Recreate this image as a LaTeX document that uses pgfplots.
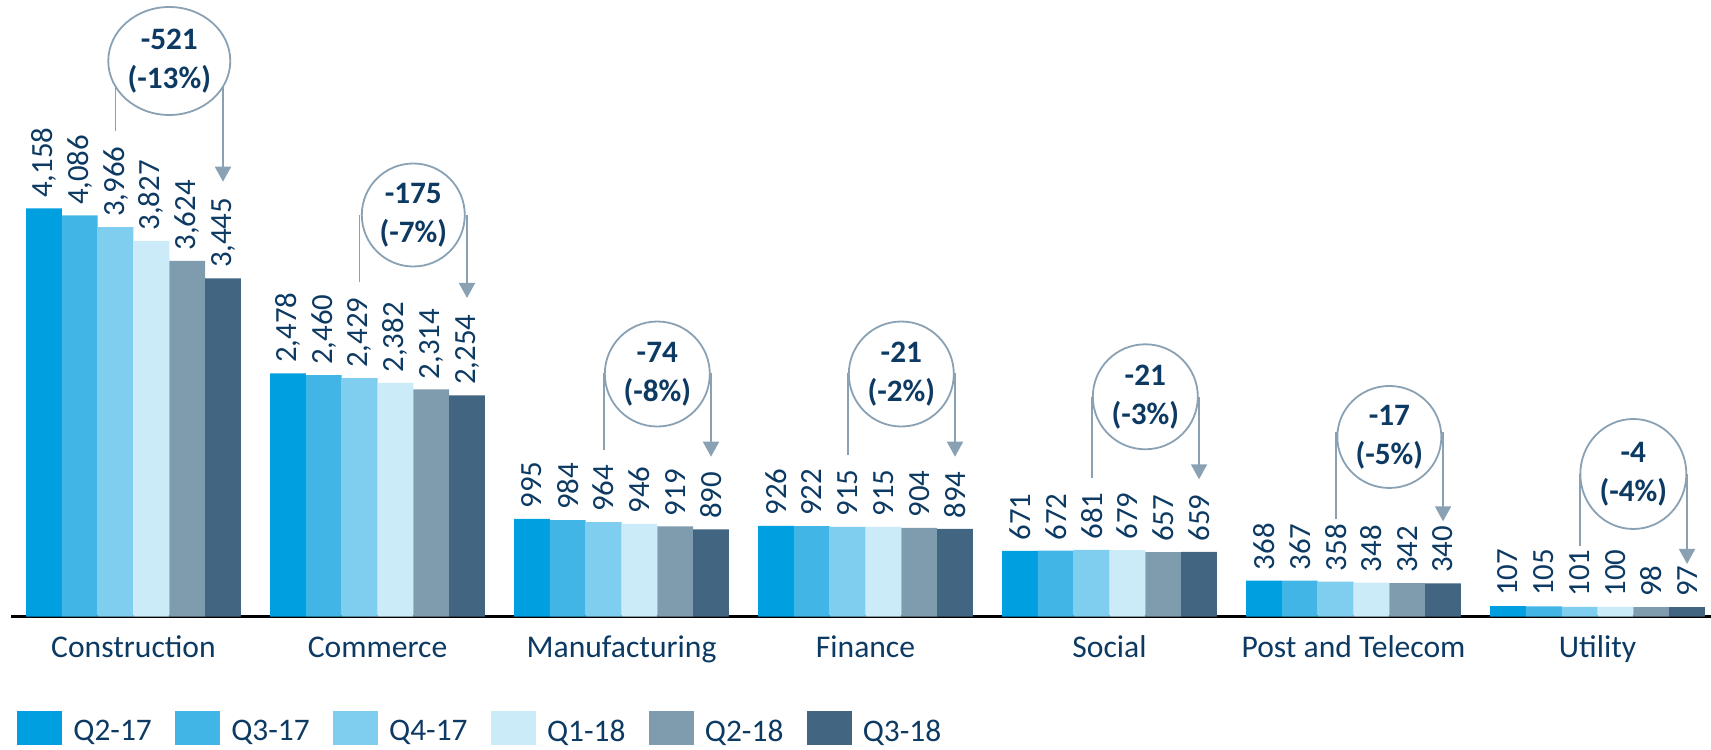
\documentclass[border=0pt]{standalone}
\usepackage{fontspec}
\setmainfont{Carlito}
\usepackage{pgfplots}
\pgfplotsset{compat=1.18}
\usetikzlibrary{arrows.meta}

\definecolor{qa}{HTML}{009FDF}
\definecolor{qb}{HTML}{41B6E6}
\definecolor{qc}{HTML}{80CEEF}
\definecolor{qd}{HTML}{CCEBF8}
\definecolor{qe}{HTML}{7F9BAE}
\definecolor{qf}{HTML}{426582}
\definecolor{navy}{HTML}{0D3A63}
\definecolor{annc}{HTML}{8AA1B4}

% category, circle y, line top, left line end, arrow tip, change, percent, x radius, y radius
\newcommand\change[9]{%
  \draw[annc, line width=0.9pt] (axis cs:#1+0.1467,#2) ellipse [x radius=#8pt, y radius=#9pt];
  \node[text=navy, font=\bfseries\fontsize{15.6}{19.5}\selectfont, align=center, inner sep=0pt]
    at (axis cs:#1+0.1467,#2) {#6\\(#7)};
  \draw[annc, line width=0.9pt] (axis cs:#1-0.0734,#3) -- (axis cs:#1-0.0734,#4);
  \draw[annc, line width=0.9pt, -{Triangle[width=8pt,length=7.5pt]}]
    (axis cs:#1+0.3668,#3) -- (axis cs:#1+0.3668,#5);
}

\begin{document}
\begin{tikzpicture}
\begin{axis}[
  name=ax,
  scale only axis,
  width=850pt, height=308.35pt,
  xmin=-0.502, xmax=6.465, ymin=0, ymax=6279,
  ybar=0pt, bar width=17.9pt,
  axis x line=bottom, axis y line=none,
  x axis line style={-, black, line width=1.3pt},
  xtick={0,...,6},
  xticklabels={Construction,Commerce,Manufacturing,Finance,Social,Post and Telecom,Utility},
  major tick length=0pt,
  xticklabel style={anchor=base, yshift=-20.3pt, text=navy, font=\fontsize{15.8}{19}\selectfont},
  ytick=\empty,
  clip=false,
  nodes near coords,
  every node near coord/.append style={rotate=90, anchor=west, inner xsep=5pt,
    text=navy, font=\fontsize{15.4}{18}\selectfont},
  /pgf/number format/1000 sep={,},
  /pgf/number format/assume math mode=true,
  legend columns=6,
  legend style={draw=none, fill=none, at={(0,0)}, anchor=west, xshift=3pt, yshift=-55.7pt,
    inner sep=0pt, column sep=0pt, cells={anchor=center},
    nodes={inner sep=0pt, text=navy, font=\fontsize{15.7}{19}\selectfont}},
  legend image code/.code={\path[#1,draw=none] (0pt,-6.5pt) rectangle (22.5pt,10.5pt); \path (28pt,0pt);},
]
\addplot[fill=qa, draw=none] coordinates {(0,4158) (1,2478) (2,995) (3,926) (4,671) (5,368) (6,107)};
\addplot[fill=qb, draw=none] coordinates {(0,4086) (1,2460) (2,984) (3,922) (4,672) (5,367) (6,105)};
\addplot[fill=qc, draw=none] coordinates {(0,3966) (1,2429) (2,964) (3,915) (4,681) (5,358) (6,101)};
\addplot[fill=qd, draw=none] coordinates {(0,3827) (1,2382) (2,946) (3,915) (4,679) (5,348) (6,100)};
\addplot[fill=qe, draw=none] coordinates {(0,3624) (1,2314) (2,919) (3,904) (4,657) (5,342) (6,98)};
\addplot[fill=qf, draw=none] coordinates {(0,3445) (1,2254) (2,890) (3,894) (4,659) (5,340) (6,97)};
\addlegendentry{Q2-17\hspace*{11.7pt}}
\addlegendentry{Q3-17\hspace*{11.7pt}}
\addlegendentry{Q4-17\hspace*{11.7pt}}
\addlegendentry{Q1-18\hspace*{11.7pt}}
\addlegendentry{Q2-18\hspace*{11.7pt}}
\addlegendentry{Q3-18}

\change{0}{5658}{5393}{4948}{4429}{-521}{-13\%}{30.5}{27}
\change{1}{4090}{4090}{3411}{3245}{-175}{-7\%}{25.75}{25.75}
\change{2}{2471}{2481}{1697}{1629}{-74}{-8\%}{26.25}{26.25}
\change{3}{2471}{2481}{1646}{1629}{-21}{-2\%}{26.25}{26.25}
\change{4}{2239}{2239}{1409}{1399}{-21}{-3\%}{26.25}{26.25}
\change{5}{1830}{1880}{990}{971}{-17}{-5\%}{26}{25.5}
\change{6}{1453}{1453}{716}{537}{-4}{-4\%}{26.5}{27.5}
\end{axis}
\pgfresetboundingbox
\path[use as bounding box] ([xshift=-5.5pt,yshift=-66.15pt]ax.south west) rectangle (ax.north east);
\end{tikzpicture}
\end{document}
